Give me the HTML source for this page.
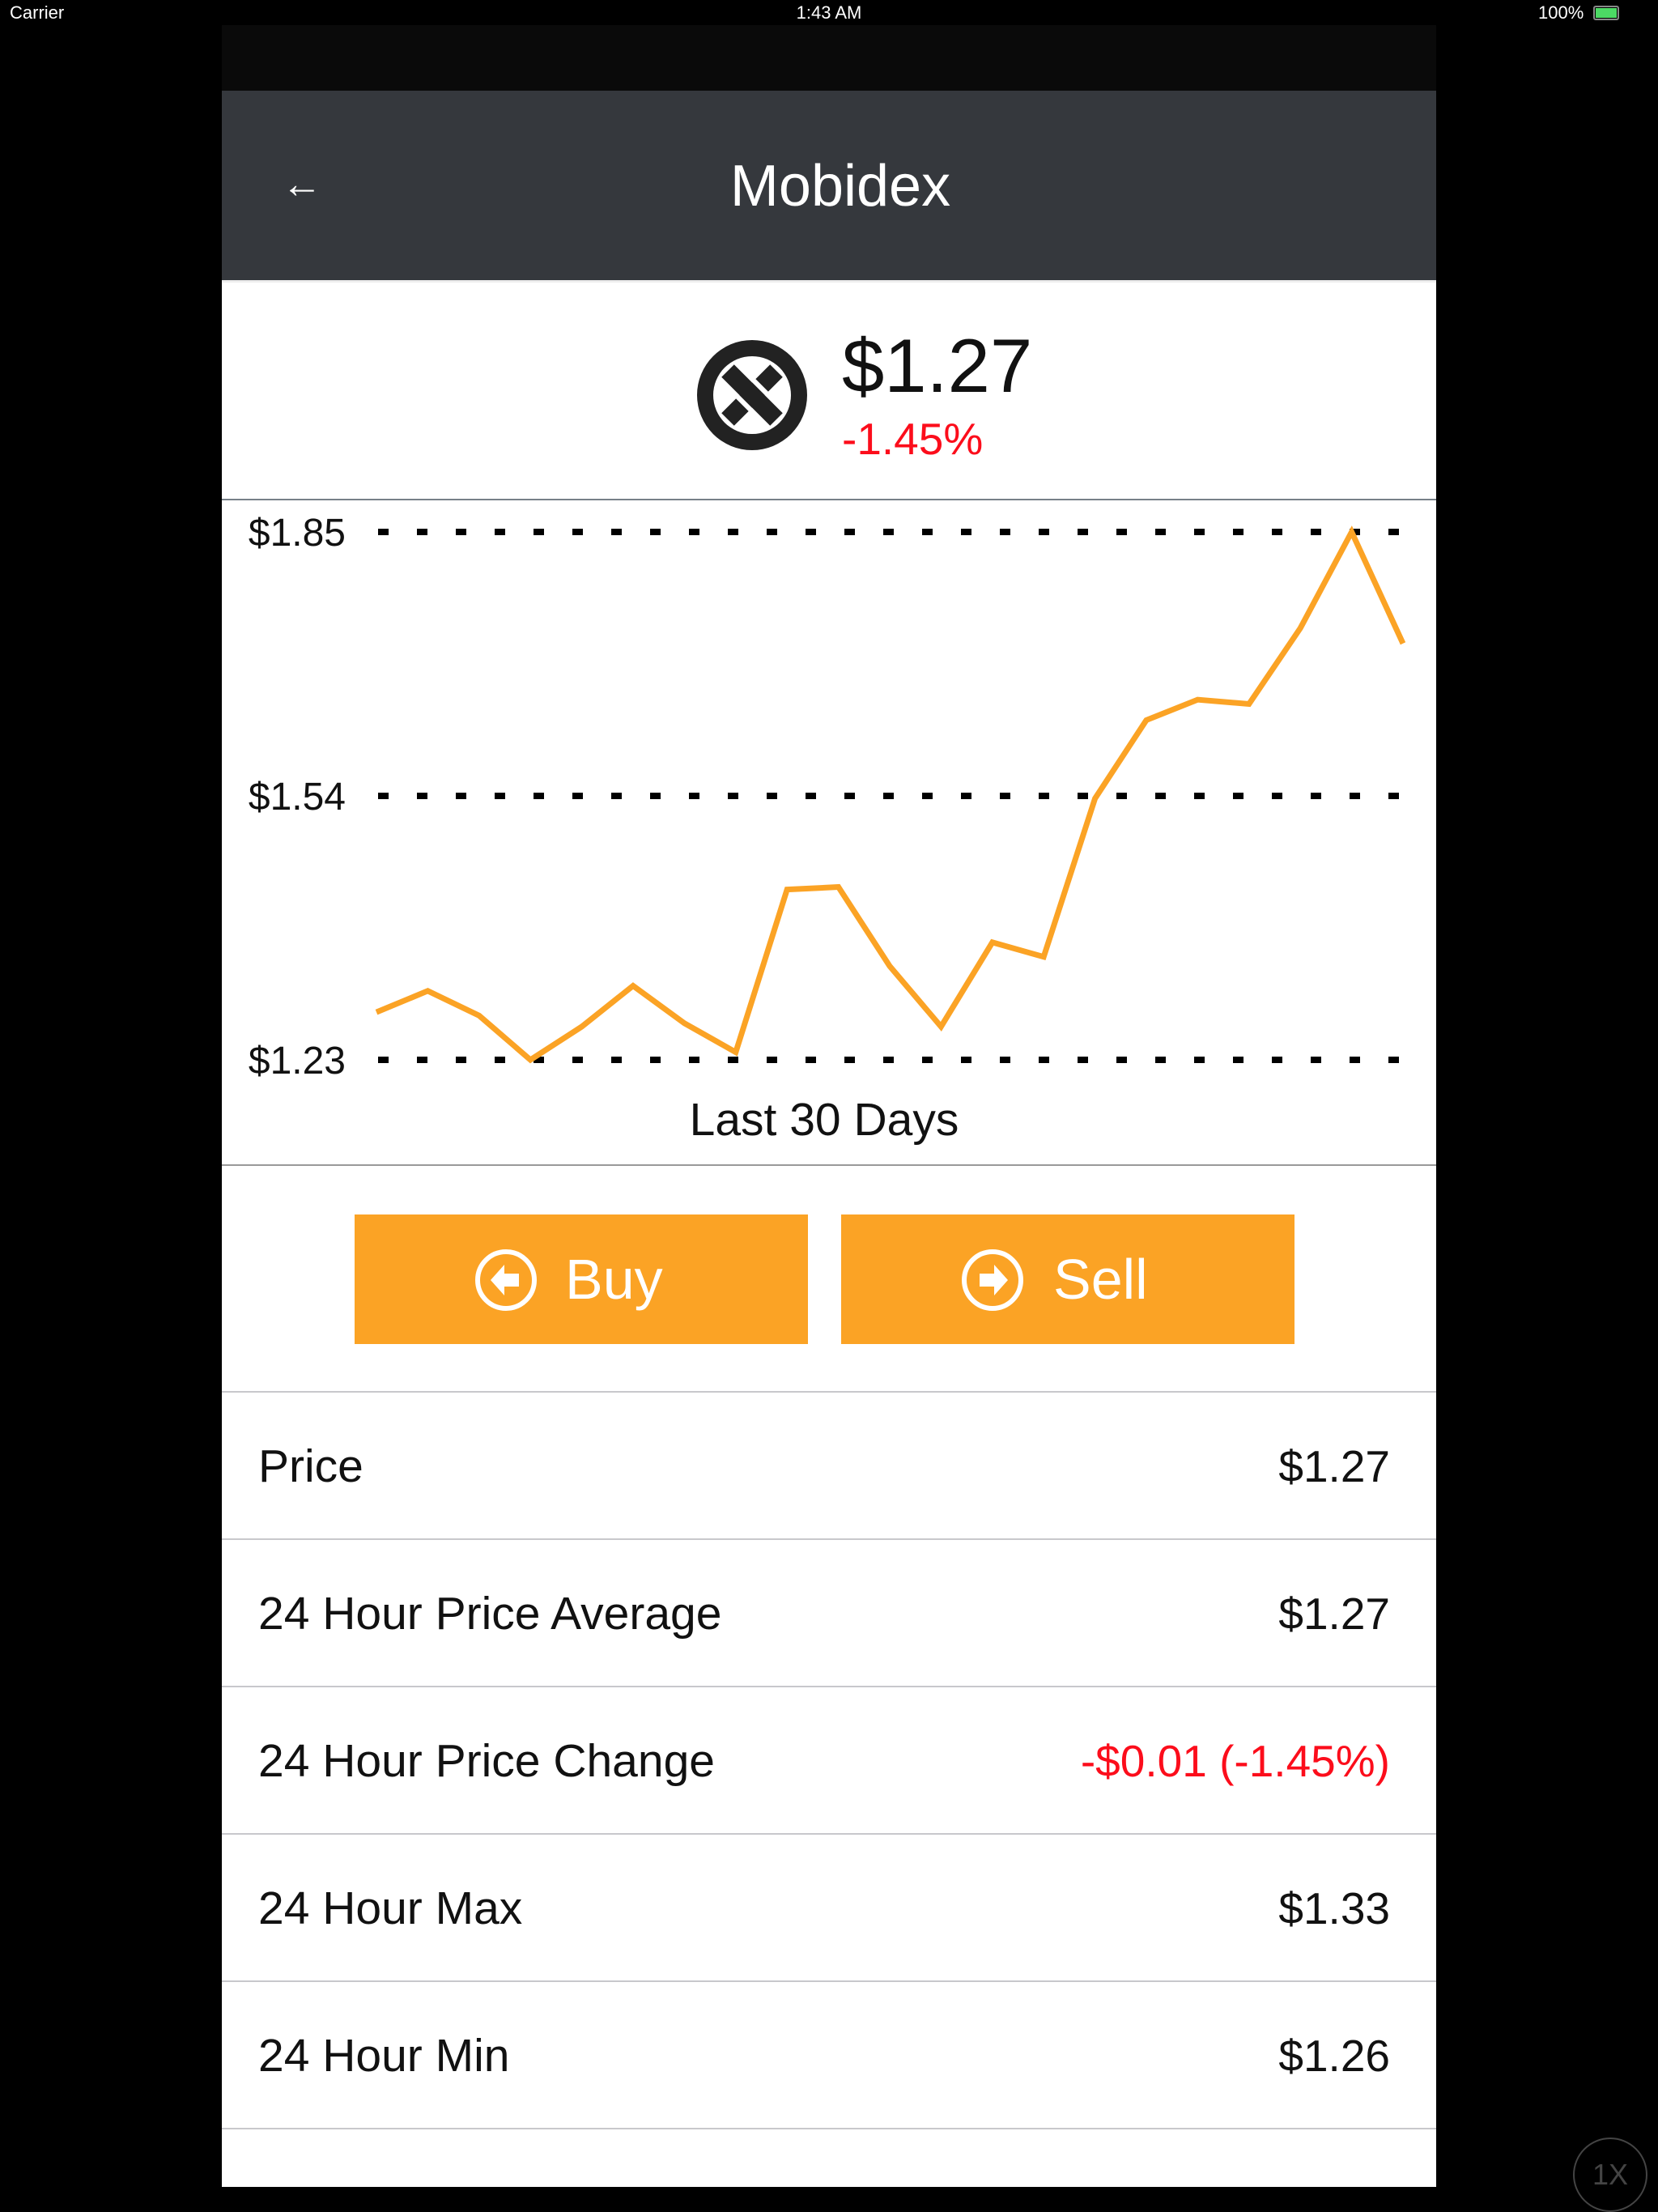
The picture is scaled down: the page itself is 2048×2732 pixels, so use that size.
<!DOCTYPE html>
<html><head><meta charset="utf-8"><style>
*{margin:0;padding:0;box-sizing:border-box}
body{width:2048px;height:2732px;background:#000;position:relative;overflow:hidden;font-family:"Liberation Sans",sans-serif}
.abs{position:absolute}
.row{position:absolute;left:274px;width:1500px;height:182px;border-bottom:2px solid #c8c8cc}
.row .l{position:absolute;left:45px;top:0;line-height:182px;font-size:57px;color:#111}
.row .r{position:absolute;right:57px;top:0;line-height:182px;font-size:55px;color:#111}
.btn{position:absolute;top:1500px;height:160px;width:560px;background:#fba325;color:#fff;font-size:70px}
</style></head><body>
<div class="abs" style="left:0;top:0;width:2048px;height:31px;color:#fff;font-size:22px">
<span class="abs" style="left:12px;top:3px">Carrier</span>
<span class="abs" style="left:0;width:2048px;text-align:center;top:3px">1:43 AM</span>
<span class="abs" style="left:1900px;top:3px">100%</span>
<div class="abs" style="left:1968px;top:7px;width:32px;height:18px;border:2px solid #888;border-radius:3px;padding:1px"><div style="width:100%;height:100%;background:#4cd964"></div></div>
</div>
<div class="abs" style="left:274px;top:31px;width:1500px;height:81px;background:#0a0a0a"></div>
<div class="abs" style="left:274px;top:112px;width:1500px;height:234px;background:#35383d">
<div class="abs" style="left:74px;top:85px;color:#fff;font-size:50px;line-height:60px">←</div>
<div class="abs" style="left:0;width:1500px;text-align:center;top:76px;color:#fff;font-size:72px;line-height:84px;padding-left:28px">Mobidex</div>
</div>
<div class="abs" style="left:274px;top:346px;width:1500px;height:2355px;background:#fff;border-top:3px solid #eee"></div>
<svg class="abs" style="left:861px;top:420px" width="136" height="136" viewBox="0 0 136 136">
<circle cx="68" cy="68" r="68" fill="#222"/><circle cx="68" cy="68" r="48" fill="#fff"/>
<path d="M38 38 L98 98 M98 38 L38 98" stroke="#222" stroke-width="22"/><path d="M30 50 L86 106 M50 30 L106 86" stroke="#fff" stroke-width="6"/>
</svg>
<div class="abs" style="left:1040px;top:397px;font-size:94px;color:#111;line-height:110px">$1.27</div>
<div class="abs" style="left:1040px;top:512px;font-size:55px;color:#fc0d1b;line-height:60px">-1.45%</div>
<div class="abs" style="left:274px;top:616px;width:1500px;height:2px;background:#778088"></div>
<svg class="abs" id="chart" style="left:0;top:0" width="2048" height="1440"></svg>
<div class="abs" style="left:518px;width:1000px;text-align:center;top:1350px;font-size:57px;color:#111;line-height:66px">Last 30 Days</div>
<div class="abs" style="left:274px;top:1438px;width:1500px;height:2px;background:#999"></div>
<div class="btn" style="left:438px">
<svg class="abs" style="left:148px;top:42px" width="78" height="78" viewBox="0 0 78 78"><circle cx="39" cy="39" r="35" fill="none" stroke="#fff" stroke-width="6"/><path d="M20 39 L37 20 L37 31 L55 31 L55 47 L37 47 L37 58 Z" fill="#fff"/></svg>
<span class="abs" style="left:260px;top:40px;line-height:80px">Buy</span></div>
<div class="btn" style="left:1039px">
<svg class="abs" style="left:148px;top:42px" width="78" height="78" viewBox="0 0 78 78"><circle cx="39" cy="39" r="35" fill="none" stroke="#fff" stroke-width="6"/><path d="M58 39 L41 20 L41 31 L23 31 L23 47 L41 47 L41 58 Z" fill="#fff"/></svg>
<span class="abs" style="left:262px;top:40px;line-height:80px">Sell</span></div>
<div class="abs" style="left:274px;top:1718px;width:1500px;height:2px;background:#c8c8cc"></div>
<div class="row" style="top:1720px"><span class="l">Price</span><span class="r">$1.27</span></div>
<div class="row" style="top:1902px"><span class="l">24 Hour Price Average</span><span class="r">$1.27</span></div>
<div class="row" style="top:2084px"><span class="l">24 Hour Price Change</span><span class="r" style="color:#fc0d1b">-$0.01 (-1.45%)</span></div>
<div class="row" style="top:2266px"><span class="l">24 Hour Max</span><span class="r">$1.33</span></div>
<div class="row" style="top:2448px"><span class="l">24 Hour Min</span><span class="r">$1.26</span></div>
<div class="abs" style="left:1943px;top:2640px;width:92px;height:92px;border:2px solid #444;border-radius:50%;color:#444;font-size:36px;text-align:center;line-height:88px">1X</div>
<script>
const prices=[1.286,1.311,1.282,1.23,1.269,1.317,1.273,1.239,1.430,1.433,1.340,1.269,1.368,1.351,1.537,1.629,1.653,1.648,1.737,1.85,1.719];
const ticks=[1.23,1.54,1.85];
const tickLabels=["$1.23","$1.54","$1.85"];
const svg=document.getElementById('chart');
const NS='http://www.w3.org/2000/svg';
const x0=465,x1=1733,yTop=657,yBot=1309,vMin=1.23,vMax=1.85;
const xs=i=>x0+(x1-x0)*i/(prices.length-1);
const ys=v=>yBot-(v-vMin)/(vMax-vMin)*(yBot-yTop);
ticks.forEach((t,i)=>{
 const l=document.createElementNS(NS,'line');
 l.setAttribute('x1',467);l.setAttribute('x2',1740);l.setAttribute('y1',ys(t));l.setAttribute('y2',ys(t));
 l.setAttribute('stroke','#000');l.setAttribute('stroke-width',8);l.setAttribute('stroke-dasharray','13 35');
 
 
 svg.appendChild(l);
 const tx=document.createElementNS(NS,'text');
 tx.setAttribute('x',427);tx.setAttribute('y',ys(t)+17);tx.setAttribute('text-anchor','end');
 tx.setAttribute('font-size',48);tx.setAttribute('font-family','Liberation Sans, sans-serif');tx.setAttribute('fill','#111');
 tx.textContent=tickLabels[i];
 
 
 svg.appendChild(tx);
});
const p=document.createElementNS(NS,'polyline');
p.setAttribute('points',prices.map((v,i)=>xs(i)+','+ys(v)).join(' '));
p.setAttribute('fill','none');p.setAttribute('stroke','#fba325');p.setAttribute('stroke-width',7);


svg.appendChild(p);
</script>
</body></html>
